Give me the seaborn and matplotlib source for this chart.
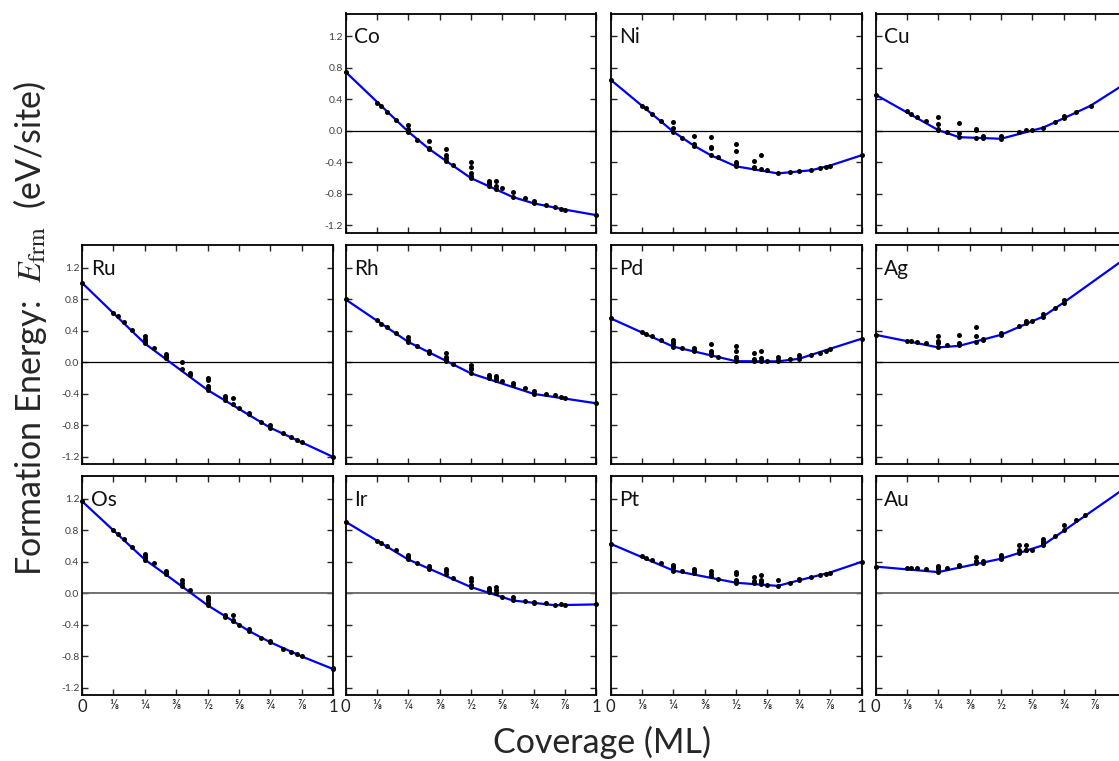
import matplotlib
matplotlib.use("Agg")
from matplotlib import pyplot as plt
from matplotlib.ticker import FormatStrFormatter
import seaborn as sns
import pandas as pd

# coverage grid shared by all metals (ML)
cov = [0, 1/8, 1/7, 1/6, 1/5, 1/4, 2/7, 1/3, 2/5, 3/7, 1/2, 4/7, 3/5, 5/8,
       2/3, 5/7, 3/4, 4/5, 5/6, 6/7, 7/8, 1]

# formation energies (eV/site) of the configurations at each coverage
co_e = [[0.75], [0.36], [0.31], [0.24], [0.14], [0.08, 0.02, 0.0, -0.01], [-0.11],
        [-0.13, -0.22, -0.23], [-0.23, -0.31, -0.34, -0.38], [-0.43],
        [-0.40, -0.46, -0.54, -0.57, -0.60], [-0.63, -0.66, -0.68, -0.70],
        [-0.63, -0.70, -0.74], [-0.72], [-0.78, -0.84], [-0.85], [-0.89, -0.92],
        [-0.94], [-0.97], [-0.99], [-1.00], [-1.07]]
ni_e = [[0.65], [0.32], [0.285], [0.21], [0.13], [0.11, 0.04, -0.01], [-0.085],
        [-0.06, -0.17, -0.19], [-0.08, -0.20, -0.22, -0.31], [-0.33],
        [-0.17, -0.26, -0.40, -0.42, -0.45], [-0.38, -0.455, -0.47], [-0.31, -0.48],
        [-0.50], [-0.54], [-0.525], [-0.515], [-0.50], [-0.475], [-0.455], [-0.44],
        [-0.31]]
cu_e = [[0.46], [0.25], [0.22], [0.18], [0.12], [0.18, 0.085, 0.03, 0.01], [-0.01],
        [0.10, -0.03, -0.08], [0.025, 0.005, -0.09], [-0.07, -0.09], [-0.06, -0.10],
        [-0.02], [0.005], [0.015], [0.04], [0.115], [0.19, 0.165], [0.235], [],
        [0.32], [], [0.61]]
ru_e = [[1.01], [0.63], [0.59], [0.51], [0.405], [0.33, 0.30, 0.27, 0.24], [0.18],
        [0.11, 0.08, 0.05], [0.0, -0.09], [-0.14, -0.16],
        [-0.20, -0.23, -0.30, -0.32, -0.35], [-0.43, -0.45, -0.48], [-0.45, -0.53],
        [-0.58], [-0.64, -0.66], [-0.76], [-0.80, -0.83], [-0.90], [-0.95], [-0.99],
        [-1.015], [-1.20]]
rh_e = [[0.80], [0.54], [0.49], [0.45], [0.375], [0.32, 0.29, 0.26], [0.21],
        [0.15, 0.125], [0.115, 0.07, 0.04, 0.02], [-0.015], [-0.03, -0.07, -0.09, -0.14],
        [-0.16, -0.18, -0.20], [-0.17, -0.20, -0.23], [-0.235], [-0.26, -0.29], [-0.33],
        [-0.36, -0.40], [-0.40], [-0.42], [-0.44], [-0.45], [-0.52]]
pd_e = [[0.56], [0.38], [0.365], [0.335], [0.285], [0.285, 0.26, 0.235, 0.20], [0.18],
        [0.18, 0.16, 0.14], [0.23, 0.14, 0.12, 0.09], [0.07],
        [0.21, 0.15, 0.07, 0.05, 0.015], [0.115, 0.04, 0.02], [0.15, 0.05, 0.02], [0.02],
        [0.07, 0.035, 0.013], [0.04], [0.10, 0.06, 0.045], [0.10], [0.12], [0.15],
        [0.17], [0.30]]
ag_e = [[0.35], [0.27], [0.27], [0.26], [0.245], [0.33, 0.27, 0.24, 0.19], [0.215],
        [0.345, 0.25, 0.215], [0.45, 0.34, 0.26], [0.30, 0.29], [0.37, 0.35], [0.46],
        [0.52, 0.50], [0.52], [0.61, 0.58], [0.685], [0.79, 0.76], [], [], [], [],
        [1.33]]
os_e = [[1.17], [0.81], [0.76], [0.685], [0.59], [0.50, 0.48, 0.45, 0.43], [0.38],
        [0.29, 0.27, 0.24], [0.165, 0.13, 0.09], [0.04],
        [-0.04, -0.07, -0.09, -0.12, -0.15], [-0.27, -0.295], [-0.28, -0.34, -0.35],
        [-0.40], [-0.455, -0.48], [-0.565], [-0.60, -0.62], [-0.70], [-0.74], [-0.775],
        [-0.795], [-0.945, -0.96]]
ir_e = [[0.91], [0.67], [0.64], [0.60], [0.55], [0.485, 0.46, 0.435], [0.39],
        [0.35, 0.32, 0.305], [0.315, 0.28, 0.24], [0.19], [0.195, 0.16, 0.10, 0.08],
        [0.07, 0.04, 0.015], [0.08, 0.04, 0.01], [-0.04], [-0.05, -0.09], [-0.10],
        [-0.11, -0.125], [-0.125], [-0.15], [-0.14], [-0.15], [-0.14]]
pt_e = [[0.63], [0.48], [0.455], [0.425], [0.39], [0.365, 0.345, 0.32, 0.29], [0.29],
        [0.305, 0.28, 0.255], [0.29, 0.24, 0.22], [0.18],
        [0.27, 0.24, 0.175, 0.155, 0.135], [0.205, 0.155, 0.13],
        [0.23, 0.175, 0.145, 0.125], [0.11], [0.165, 0.095], [0.135], [0.18, 0.165],
        [0.21], [0.235], [0.25], [0.265], [0.40]]
au_e = [[0.34], [0.32], [0.32], [0.32], [0.315], [0.35, 0.33, 0.31, 0.27], [0.32],
        [0.365, 0.345], [0.46, 0.41, 0.39], [0.41, 0.39], [0.485, 0.46, 0.44],
        [0.61, 0.545, 0.515], [0.61, 0.555, 0.545], [0.545], [0.69, 0.665, 0.635, 0.61],
        [0.73], [0.87, 0.81], [0.93], [1.00], [], [], [1.35]]

# convex hull vertices
co_hull_x = [0, 1/4, 1/3, 2/5, 1/2, 2/3, 3/4, 7/8, 1]
co_hull_y = [0.75, -0.01, -0.23, -0.38, -0.60, -0.84, -0.92, -1.00, -1.07]
ni_hull_x = [0, 1/4, 1/3, 2/5, 1/2, 2/3, 4/5, 7/8, 1]
ni_hull_y = [0.65, -0.01, -0.19, -0.31, -0.45, -0.54, -0.50, -0.44, -0.31]
cu_hull_x = [0, 1/4, 1/3, 1/2, 2/3, 3/4, 6/7, 1]
cu_hull_y = [0.46, 0.01, -0.08, -0.10, 0.04, 0.16, 0.32, 0.61]
ru_hull_x = [0, 1/4, 1/2, 3/4, 1]
ru_hull_y = [1.01, 0.24, -0.35, -0.83, -1.20]
rh_hull_x = [0, 1/4, 1/2, 3/4, 1]
rh_hull_y = [0.80, 0.26, -0.14, -0.40, -0.52]
pd_hull_x = [0, 1/4, 1/2, 2/3, 3/4, 1]
pd_hull_y = [0.56, 0.20, 0.015, 0.013, 0.045, 0.30]
ag_hull_x = [0, 1/4, 1/3, 1/2, 2/3, 3/4, 1]
ag_hull_y = [0.35, 0.19, 0.21, 0.35, 0.58, 0.76, 1.33]
os_hull_x = [0, 1/8, 1/4, 1/3, 1/2, 2/3, 3/4, 7/8, 1]
os_hull_y = [1.17, 0.80, 0.43, 0.24, -0.15, -0.48, -0.62, -0.80, -0.96]
ir_hull_x = [0, 1/4, 1/2, 2/3, 5/6, 1]
ir_hull_y = [0.91, 0.43, 0.08, -0.09, -0.15, -0.14]
pt_hull_x = [0, 1/4, 1/2, 2/3, 3/4, 7/8, 1]
pt_hull_y = [0.63, 0.29, 0.135, 0.095, 0.165, 0.265, 0.40]
au_hull_x = [0, 1/4, 1/2, 2/3, 1]
au_hull_y = [0.34, 0.27, 0.44, 0.61, 1.35]

xtick_labels = ["0", "⅛", "¼", "⅜", "½", "⅝", "¾", "⅞", "1"]
yticks = [-1.2, -0.8, -0.4, 0.0, 0.4, 0.8, 1.2]

panels = [
    (0, 1, "Co", co_e, co_hull_x, co_hull_y),
    (0, 2, "Ni", ni_e, ni_hull_x, ni_hull_y),
    (0, 3, "Cu", cu_e, cu_hull_x, cu_hull_y),
    (1, 0, "Ru", ru_e, ru_hull_x, ru_hull_y),
    (1, 1, "Rh", rh_e, rh_hull_x, rh_hull_y),
    (1, 2, "Pd", pd_e, pd_hull_x, pd_hull_y),
    (1, 3, "Ag", ag_e, ag_hull_x, ag_hull_y),
    (2, 0, "Os", os_e, os_hull_x, os_hull_y),
    (2, 1, "Ir", ir_e, ir_hull_x, ir_hull_y),
    (2, 2, "Pt", pt_e, pt_hull_x, pt_hull_y),
    (2, 3, "Au", au_e, au_hull_x, au_hull_y),
]


def dots_frame(e):
    rows = [(c, v) for c, vals in zip(cov, e) for v in vals]
    return pd.DataFrame(rows, columns=["cov", "e"])


sns.set_style("ticks")
plt.rcParams["font.family"] = ["Lato", "DejaVu Sans"]
plt.rcParams["mathtext.fontset"] = "stix"
plt.rcParams["axes.unicode_minus"] = False

W, H = 1119, 761
fig = plt.figure(figsize=(W / 100, H / 100), dpi=100)
fig.patch.set_facecolor("white")

lefts = [82, 345.5, 610.5, 875.5]
tops = [13.5, 245, 476]
aw, ah = 251, 219

for row, col, name, e, hx, hy in panels:
    ax = fig.add_axes([lefts[col] / W, 1 - (tops[row] + ah) / H, aw / W, ah / H])
    ax.axhline(0, color="black" if row < 2 else "#666666",
               lw=0.9 if row < 2 else 1.3, zorder=1)
    hull = pd.DataFrame({"cov": hx, "e": hy})
    sns.lineplot(data=hull, x="cov", y="e", ax=ax, color="#0000f0", lw=1.6,
                 sort=False, estimator=None, zorder=2, clip_on=False)
    sns.scatterplot(data=dots_frame(e), x="cov", y="e", ax=ax, color="black",
                    s=13, linewidth=0, zorder=3, clip_on=False)
    ax.set_xlim(0, 1)
    ax.set_ylim(-1.29, 1.49)
    ax.set_xlabel("")
    ax.set_ylabel("")
    ax.set_xticks([i / 8 for i in range(9)])
    ax.set_yticks(yticks)
    ax.yaxis.set_major_formatter(FormatStrFormatter("%.1f"))
    ax.tick_params(direction="in", top=True, right=True, length=4, width=1,
                   labelsize=7.5, labelcolor="#404040", pad=2)
    for s in ax.spines.values():
        s.set_linewidth(1.3)
        s.set_color("black")
    if row == 2:
        # the last column runs past the figure edge, so its "1" is not shown
        labels = xtick_labels[:-1] + [""] if col == 3 else xtick_labels
        ax.set_xticklabels(labels)
        ax.tick_params(axis="x", labelcolor="#222222", pad=3)
        for i, lab in enumerate(ax.get_xticklabels()):
            lab.set_fontsize(12 if i in (0, 8) else 9)
    else:
        ax.set_xticklabels([])
    if not (col == 0 or (row == 0 and col == 1)):
        ax.set_yticklabels([])
    ax.text(0.035, 0.864, name, transform=ax.transAxes, fontsize=15,
            ha="left", va="baseline", color="#111111")

fig.text(30 / W, 1 - 328 / H, "Formation Energy:  $E_{\\mathrm{frm}}$  (eV/site)",
         rotation=90, fontsize=24.5, ha="center", va="center")
fig.text(602 / W, 1 - 742 / H, "Coverage (ML)", fontsize=24.5, ha="center",
         va="center")

fig.savefig("out.png", dpi=100)
